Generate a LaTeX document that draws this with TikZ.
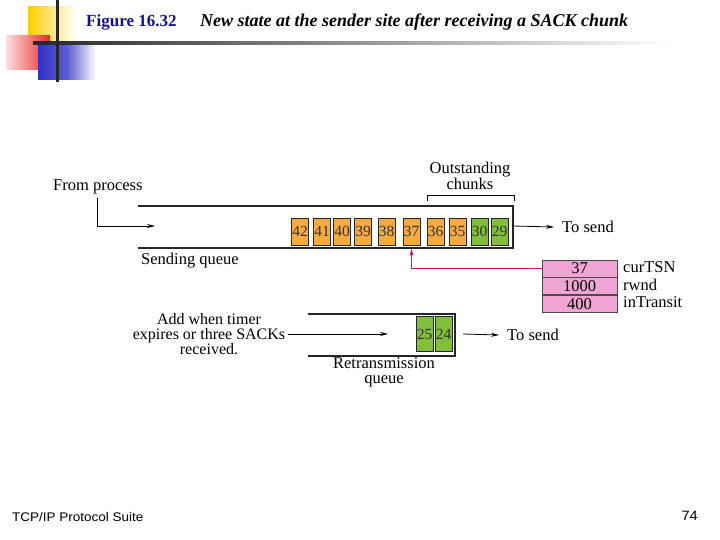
\documentclass[tikz,border=0pt]{standalone}
\usepackage{fontspec}
\setmainfont{Liberation Serif}
\newfontfamily\footfont[FakeStretch=1.08]{Liberation Sans}
\usetikzlibrary{arrows.meta}
\definecolor{cellorange}{RGB}{246,170,64}
\definecolor{cellgreen}{RGB}{128,190,60}
\definecolor{boxpink}{RGB}{240,165,212}
\definecolor{arrowmag}{RGB}{200,20,130}
\definecolor{titleblue}{RGB}{20,20,140}
\definecolor{decoyellow}{RGB}{255,204,0}
\definecolor{decored}{RGB}{235,40,40}
\definecolor{decoblue}{RGB}{50,50,200}
\begin{document}
\begin{tikzpicture}[x=1pt,y=-1pt,
  diag/.style={font=\fontsize{16.5}{15}\selectfont, inner sep=0pt},
  cellbox/.style={draw=black!85, line width=0.8pt, minimum width=17pt, inner sep=0pt, font=\fontsize{15.5}{16}\selectfont, text=black!80},
  qline/.style={line width=1.2pt, black!85},
  arr/.style={line width=0.8pt, -{Stealth[length=8pt,width=4pt]}},
  pinkrow/.style={draw=black!70, line width=0.6pt, fill=boxpink, minimum width=75pt, minimum height=17pt, inner sep=0pt, font=\fontsize{16.5}{15}\selectfont}
]
\useasboundingbox (0,0) rectangle (720,540);
\fill[white] (0,0) rectangle (720,540);

% decoration
\shade[left color=decoyellow, right color=white] (28,7) rectangle (76,45);
\shade[left color=decored!15, right color=decored] (6,36) rectangle (50,70);
\shade[left color=decoblue, right color=white, middle color=decoblue!80] (38,45) rectangle (96,80);
\shade[left color=black!85, right color=white] (33,42) rectangle (673,45);
\fill[black!85] (56,0) rectangle (59,82);

% title
\node[anchor=west, inner sep=0pt, font=\fontsize{17}{18}\selectfont\bfseries, text=titleblue] (fig) at (86,22) {Figure 16.32};
\node[anchor=west, inner sep=0pt, font=\fontsize{18}{18}\selectfont\bfseries\itshape] (cap) at (200,22) {New state at the sender site after receiving a SACK chunk};

% sending queue
\coordinate (sqNW) at (138,206);
\coordinate (sqNE) at (513,206);
\coordinate (sqSE) at (513,248);
\coordinate (sqSW) at (138,248);
\coordinate (sqE) at (513,226);
\draw[qline] (sqNW) -- (sqNE) -- (sqSE) -- (sqSW);

\foreach \x/\t/\c in {300/42/cellorange,322/41/cellorange,342/40/cellorange,363/39/cellorange,386.5/38/cellorange,411.5/37/cellorange,435.5/36/cellorange,457.5/35/cellorange,479.5/30/cellgreen,499.5/29/cellgreen}{
  \node[cellbox, fill=\c, minimum height=27pt] (c\t) at (\x,231.5) {\t};
}

% outstanding bracket
\coordinate (brL) at (427,201);
\coordinate (brR) at (514,201);
\draw[line width=0.8pt] (brL) -- ++(0,-6) -| (brR);
\node[diag, align=center] (outst) at (470,176) {Outstanding\\chunks};

% from process
\node[diag, anchor=west] (fromproc) at (53,187) {From process};
\coordinate (fpA) at (97,198);
\coordinate (fpB) at (155,226);
\draw[arr] (fpA) |- (fpB);
\node[diag, anchor=north west] (sqlabel) at (141,253) {Sending queue};

% to send 1
\node[diag, anchor=west] (tosend1) at (562,227) {To send};
\draw[arr] (sqE) -- ([xshift=-8pt]tosend1.west);

% pink box
\node[pinkrow] (p1) at (579.5,268.5) {37};
\node[pinkrow, anchor=north] (p2) at (p1.south) {1000};
\node[pinkrow, anchor=north] (p3) at (p2.south) {400};
\node[diag, anchor=west] (l1) at (623,267) {curTSN};
\node[diag, anchor=west] (l2) at (623,285) {rwnd};
\node[diag, anchor=west] (l3) at (623,302) {inTransit};
\draw[arr, arrowmag] (p1.west) -| ([yshift=-3pt]c37.south);

% retransmission queue
\coordinate (rqNW) at (308,314);
\coordinate (rqNE) at (455,314);
\coordinate (rqSE) at (455,356);
\coordinate (rqSW) at (308,356);
\coordinate (rqE) at (455,334);
\draw[qline] (rqNW) -- (rqNE) -- (rqSE) -- (rqSW);
\node[cellbox, fill=cellgreen, minimum height=35pt] (c25) at (424.5,334) {25};
\node[cellbox, fill=cellgreen, minimum height=35pt] (c24) at (443.5,334) {24};

\node[diag, align=center, font=\fontsize{16}{15}\selectfont] (addwhen) at (209,334) {Add when timer\\expires or three SACKs\\received.};
\coordinate (rqIn) at (388,334);
\draw[arr] ([xshift=3pt]addwhen.east) -- (rqIn);
\node[diag, align=center, font=\fontsize{16.5}{15}\selectfont] (rqlabel) at (384,372) {Retransmission\\queue};

\node[diag, anchor=west] (tosend2) at (507,335) {To send};
\draw[arr] ([xshift=8pt]rqE) -- ([xshift=-8pt]tosend2.west);

% footer
\node[anchor=west, inner sep=0pt, font=\footfont\fontsize{12.5}{13}\selectfont] (foot) at (12,517) {TCP/IP Protocol Suite};
\node[anchor=east, inner sep=0pt, font=\footfont\fontsize{13.5}{14}\selectfont] (pg) at (698,516) {74};
\end{tikzpicture}
\end{document}
